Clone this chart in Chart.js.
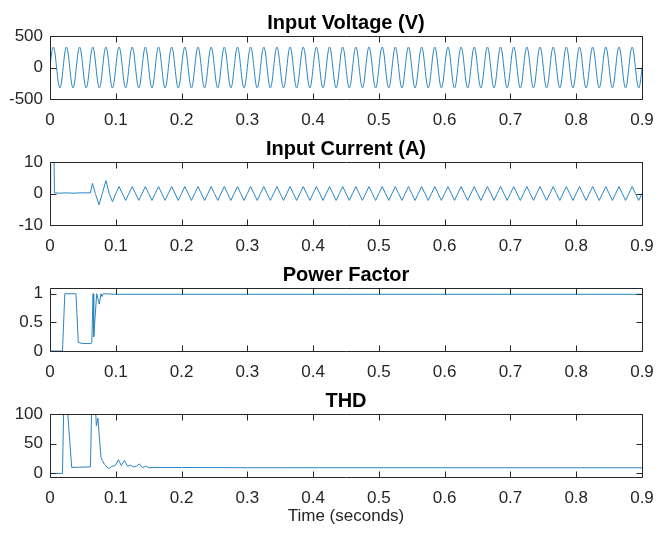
<!DOCTYPE html>
<html>
<head>
<meta charset="utf-8">
<script src="https://cdn.jsdelivr.net/npm/chart.js@4"></script>
<style>
  html, body { margin: 0; padding: 0; background: #fff; }
  #fig { position: relative; width: 668px; height: 533px; }
  canvas { position: absolute; left: 0; display: block; }
</style>
</head>
<body>
<div id="fig">
  <canvas id="c1" width="668" height="126" style="top:0"></canvas>
  <canvas id="c2" width="668" height="126" style="top:126px"></canvas>
  <canvas id="c3" width="668" height="126" style="top:252px"></canvas>
  <canvas id="c4" width="668" height="155" style="top:378px"></canvas>
</div>
<script>
// ── Data ─────────────────────────────────────────────────────
const xTicks = [0, 0.1, 0.2, 0.3, 0.4, 0.5, 0.6, 0.7, 0.8, 0.9];
const period = 0.02;   // 50 Hz mains

// input voltage: one cycle sampled every 1/8 period, repeated over the run
const voltCycle  = [0, 230, 325, 230, 0, -230, -325, -230];
const voltCycles = 45;
const voltTicks  = [-500, 0, 500];

// input current: start-up transient, then a steady triangular-ish wave
const curStartT = [0, 0.001, 0.0055, 0.0068, 0.015, 0.025, 0.035, 0.045, 0.055, 0.0615, 0.0645, 0.069, 0.0745, 0.0795, 0.085, 0.09, 0.095];
const curStartA = [0, 20, 20, 0.2, 0.1, 0.2, 0.1, 0.2, 0.2, 0.2, 3.2, 0, -3.6, 0, 4.1, 0, -2.6];
const curCycle  = [0, 2.2, 0, -2.2];
const curFrom   = 0.1;
const curCycles = 40;
const curTicks  = [-10, 0, 10];

// power factor
const pfT = [0, 0.019, 0.0225, 0.0395, 0.043, 0.05, 0.062, 0.0635, 0.0655, 0.0665, 0.071, 0.075, 0.0775, 0.079, 0.081, 0.1, 0.9];
const pfV = [0, 0, 1, 1, 0.15, 0.13, 0.13, 0.14, 1, 0.25, 1, 0.82, 1, 0.95, 1, 0.99, 0.99];
const pfTicks = [0, 0.5, 1];

// THD (%)
const thdT = [0, 0.019, 0.0215, 0.0237, 0.033, 0.045, 0.0615, 0.064, 0.0675, 0.0705, 0.0728, 0.0775, 0.0795, 0.083, 0.0865, 0.089, 0.094, 0.099, 0.104, 0.1085, 0.113, 0.118, 0.1225, 0.127, 0.131, 0.136, 0.1405, 0.146, 0.1505, 0.16, 0.2, 0.3, 0.9];
const thdV = [0, 0, 150, 150, 10, 10.5, 11, 150, 150, 80, 93, 27, 22, 15, 11, 8, 12, 13, 23, 13, 22, 12, 14, 11, 12, 16, 9.5, 12.5, 9.5, 10, 10, 9.6, 9.5];
const thdTicks = [0, 50, 100];

// ── Build point lists ────────────────────────────────────────
function tile(t0, shape, cycles) {
  const step = period / shape.length, pts = [];
  for (let c = 0; c < cycles; c++)
    shape.forEach((v, i) => pts.push({ x: t0 + (c * shape.length + i) * step, y: v }));
  pts.push({ x: t0 + cycles * period, y: shape[0] });
  return pts;
}
const zip = (ts, vs) => ts.map((t, i) => ({ x: t, y: vs[i] }));

const voltPts = tile(0, voltCycle, voltCycles);
const curPts  = zip(curStartT, curStartA).concat(tile(curFrom, curCycle, curCycles));
const pfPts   = zip(pfT, pfV);
const thdPts  = zip(thdT, thdV);

// ── MATLAB-ish axes ──────────────────────────────────────────
const FONT = '"Liberation Sans", Arial, Helvetica, sans-serif';
const AX = '#262626', LINE = '#2a84c2';
const fmt = v => String(+(+v).toFixed(2));

// box, inward ticks on all four sides, bold title
function axesDeco(title) {
  return {
    id: 'axesDeco',
    afterDatasetsDraw(chart) {
      const { ctx, chartArea: a, scales: { x, y } } = chart;
      const L = Math.round(a.left) + 0.5, R = Math.round(a.right) + 0.5;
      const T = Math.round(a.top) + 0.5, B = Math.round(a.bottom) + 0.5;
      ctx.save();
      ctx.strokeStyle = AX; ctx.lineWidth = 1;
      ctx.beginPath();
      x.ticks.forEach(t => {
        const px = Math.round(x.getPixelForValue(t.value)) + 0.5;
        ctx.moveTo(px, B); ctx.lineTo(px, B - 6);
        ctx.moveTo(px, T); ctx.lineTo(px, T + 6);
      });
      y.ticks.forEach(t => {
        const py = Math.round(y.getPixelForValue(t.value)) + 0.5;
        ctx.moveTo(L, py); ctx.lineTo(L + 6, py);
        ctx.moveTo(R, py); ctx.lineTo(R - 6, py);
      });
      ctx.rect(L, T, R - L, B - T);
      ctx.stroke();
      ctx.fillStyle = '#000';
      ctx.font = 'bold 20px ' + FONT;
      ctx.textAlign = 'center'; ctx.textBaseline = 'alphabetic';
      ctx.fillText(title, (a.left + a.right) / 2, a.top - 7.5);
      ctx.restore();
    }
  };
}

function makeAxes(id, title, pts, yMin, yMax, yTicks, xAxisH, opts = {}) {
  return new Chart(document.getElementById(id), {
    type: 'line',
    data: { datasets: [{
      data: pts, borderColor: LINE, borderWidth: 1, pointRadius: 0, tension: 0,
      cubicInterpolationMode: opts.smooth ? 'monotone' : 'default'
    }] },
    options: {
      responsive: false, animation: false, events: [],
      layout: { padding: { top: 36, right: 26, left: 0, bottom: 0 } },
      plugins: { legend: { display: false }, tooltip: { enabled: false } },
      scales: {
        x: {
          type: 'linear', min: 0, max: 0.9,
          afterBuildTicks: s => { s.ticks = xTicks.map(v => ({ value: v })); },
          afterFit: s => { s.height = xAxisH; s.paddingLeft = 0; s.paddingRight = 0; },
          ticks: { color: AX, font: { family: FONT, size: 17 }, padding: 11, maxRotation: 0, callback: fmt },
          grid: { display: false, drawTicks: false }, border: { display: false },
          title: opts.xTitle ? { display: true, text: opts.xTitle, color: AX,
                                 font: { family: FONT, size: 17 }, padding: { top: 0, bottom: 6 } }
                             : { display: false }
        },
        y: {
          min: yMin, max: yMax,
          afterBuildTicks: s => { s.ticks = yTicks.map(v => ({ value: v })); },
          afterFit: s => { s.width = 50; s.paddingTop = 0; s.paddingBottom = 0; },
          ticks: { color: AX, font: { family: FONT, size: 17 }, padding: 7, callback: fmt },
          grid: { display: false, drawTicks: false }, border: { display: false }
        }
      }
    },
    plugins: [axesDeco(title)]
  });
}

// ── Render ───────────────────────────────────────────────────
makeAxes('c1', 'Input Voltage (V)', voltPts, -500, 500, voltTicks, 27, { smooth: true });
makeAxes('c2', 'Input Current (A)', curPts, -10, 10, curTicks, 27);
makeAxes('c3', 'Power Factor', pfPts, 0, 1.1, pfTicks, 27);
makeAxes('c4', 'THD', thdPts, -6, 100, thdTicks, 56, { xTitle: 'Time (seconds)' });
</script>
</body>
</html>
